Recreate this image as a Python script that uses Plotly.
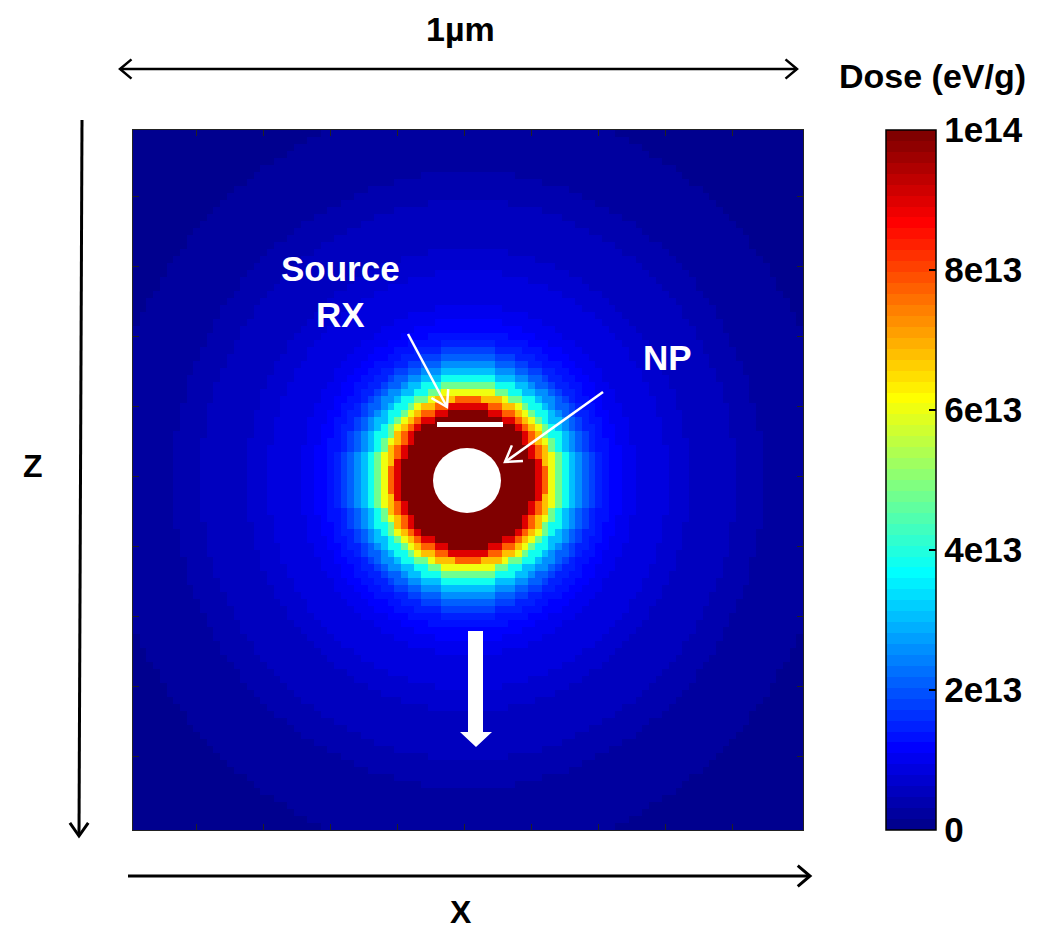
import numpy as np
import plotly.graph_objects as go

# ---------------- data ----------------
grid_step_nm = 10
grid_size_nm = 1000
dose_center_x_nm = 500
dose_center_z_nm = 500
# radial dose profile (dose applies from each radius up to the next one)
radius_bin_start_nm = [0, 100, 108, 116, 124, 132, 140, 150, 160, 170, 180, 190, 200,
                       215, 230, 250, 275, 300, 330, 360, 400, 440, 480, 540, 600]
dose_e13 = [14.0, 9.0, 7.8, 6.8, 6.0, 4.8, 3.8, 3.0, 2.5, 2.1, 1.8, 1.55, 1.3,
            1.12, 1.0, 0.9, 0.8, 0.7, 0.6, 0.48, 0.36, 0.26, 0.16, 0.09, 0.04]
colorbar_tick_values = [0, 2e13, 4e13, 6e13, 8e13, 1e14]
colorbar_tick_labels = ["0", "2e13", "4e13", "6e13", "8e13", "1e14"]
axis_tick_values_nm = [95, 195, 295, 395, 495, 595, 695, 795, 895]

# ---------------- build the dose table ----------------
cell_centers = np.arange(grid_step_nm / 2, grid_size_nm, grid_step_nm)
XX, ZZ = np.meshgrid(cell_centers, cell_centers)
RR = np.hypot(XX - dose_center_x_nm, ZZ - dose_center_z_nm)
bin_idx = np.searchsorted(np.array(radius_bin_start_nm), RR, side="right") - 1
dose = np.array(dose_e13)[bin_idx] * 1e13

# ---------------- MATLAB jet(64) colormap ----------------
m = 64
n = int(np.ceil(m / 4))
u = np.concatenate([np.arange(1, n + 1) / n, np.ones(n - 1), np.arange(n, 0, -1) / n])
g = int(np.ceil(n / 2)) - (1 if m % 4 == 1 else 0) + np.arange(1, len(u) + 1)
r = g + n
b = g - n
g = g[g <= m]
r = r[r <= m]
b = b[b >= 1]
J = np.zeros((m, 3))
J[r - 1, 0] = u[:len(r)]
J[g - 1, 1] = u[:len(g)]
J[b - 1, 2] = u[len(u) - len(b):]
jet_scale = []
for k in range(m):
    c = "rgb(%d,%d,%d)" % tuple(int(round(v * 255)) for v in J[k])
    jet_scale.append([k / m, c])
    jet_scale.append([(k + 1) / m, c])

FONT = "Liberation Sans, Arial, sans-serif"

# page body margin offset (pixels)
OFF = 8
FIG_W, FIG_H = 1044 - OFF, 931 - OFF
L, T, W, H = 133, 130, 670, 700   # plot area in screen pixels

fig = go.Figure()
fig.add_trace(go.Heatmap(
    x=cell_centers, y=cell_centers, z=dose,
    zmin=0, zmax=1e14, colorscale=jet_scale, hoverinfo="skip",
    colorbar=dict(
        x=(886 - L) / W, xanchor="left", xpad=0,
        y=0.5, yanchor="middle", len=1, lenmode="fraction", ypad=0,
        thickness=50, thicknessmode="pixels",
        outlinecolor="black", outlinewidth=1.5,
        tickvals=colorbar_tick_values, ticktext=colorbar_tick_labels,
        ticks="inside", ticklen=7, tickwidth=1.5, tickcolor="black",
        tickfont=dict(family=FONT, size=35, color="black", weight="bold"),
    ),
))


def P(x, y):
    return (x - L) / W, (T + H - y) / H


axis_common = dict(showticklabels=False, ticks="inside", ticklen=6, tickwidth=1,
                   tickcolor="#222", showline=True, linecolor="#222", linewidth=1,
                   mirror="ticks", showgrid=False, zeroline=False,
                   tickvals=axis_tick_values_nm)
fig.update_layout(
    width=FIG_W, height=FIG_H,
    margin=dict(l=L - OFF, r=FIG_W - (L - OFF) - W, t=T - OFF, b=FIG_H - (T - OFF) - H),
    paper_bgcolor="white", plot_bgcolor="white",
    xaxis=dict(range=[0, grid_size_nm], **axis_common),
    yaxis=dict(range=[grid_size_nm, 0], **axis_common),
    showlegend=False,
)

shapes = []


def line_px(p0, p1, color, width):
    x0, y0 = P(*p0)
    x1, y1 = P(*p1)
    shapes.append(dict(type="line", xref="paper", yref="paper", x0=x0, y0=y0, x1=x1, y1=y1,
                       line=dict(color=color, width=width)))


def chevron_px(tip, tail, color, width, arm=16, ang=35):
    tx, ty = tip
    dx, dy = tail[0] - tx, tail[1] - ty
    d = np.hypot(dx, dy)
    ux, uy = dx / d, dy / d
    pts = []
    for s in (1, -1):
        a = np.radians(ang * s)
        vx = ux * np.cos(a) - uy * np.sin(a)
        vy = ux * np.sin(a) + uy * np.cos(a)
        pts.append((tx + arm * vx, ty + arm * vy))
    path = "M %f,%f L %f,%f L %f,%f" % (*P(*pts[0]), *P(tx, ty), *P(*pts[1]))
    shapes.append(dict(type="path", xref="paper", yref="paper", path=path,
                       line=dict(color=color, width=width)))


def arrow_px(tail, tip, color, width, double=False, arm=16, ang=35):
    line_px(tail, tip, color, width)
    chevron_px(tip, tail, color, width, arm, ang)
    if double:
        chevron_px(tail, tip, color, width, arm, ang)


# black scale/axis arrows outside the map
arrow_px((120, 69), (797, 69), "black", 2.5, double=True, arm=15, ang=40)
arrow_px((82, 120), (79, 836), "black", 3, arm=16, ang=35)
arrow_px((128, 876), (810, 876), "black", 3, arm=16, ang=40)

# white annotation arrows inside the map
arrow_px((408, 334), (447, 407), "white", 2.5, arm=18, ang=32)
arrow_px((603, 392), (505, 462), "white", 2.5, arm=18, ang=32)

# white source bar
bx0, by0 = P(437, 427)
bx1, by1 = P(503, 422)
shapes.append(dict(type="rect", xref="paper", yref="paper", x0=bx0, y0=by0, x1=bx1, y1=by1,
                   fillcolor="white", line=dict(width=0)))

# nanoparticle
cx0, cy0 = P(433, 513)
cx1, cy1 = P(501, 448)
shapes.append(dict(type="circle", xref="paper", yref="paper", x0=cx0, y0=cy0, x1=cx1, y1=cy1,
                   fillcolor="white", line=dict(width=0)))

# downward beam arrow
pts = [(468, 631), (483, 631), (483, 732), (492, 732), (476, 747), (460, 732), (468, 732)]
path = "M " + " L ".join("%f,%f" % P(*p) for p in pts) + " Z"
shapes.append(dict(type="path", xref="paper", yref="paper", path=path,
                   fillcolor="white", line=dict(width=0)))

fig.update_layout(shapes=shapes)


def text_px(txt, x, y, color, size=33):
    px, py = P(x, y)
    fig.add_annotation(text=txt, x=px, y=py, xref="paper", yref="paper",
                       xanchor="center", yanchor="middle", showarrow=False,
                       font=dict(family=FONT, size=size, color=color, weight="bold"))


text_px("1µm", 460, 29, "black", size=34)
text_px("Dose (eV/g)", 932, 76, "black", size=34)
text_px("Z", 33, 466, "black", size=32)
text_px("X", 461, 912, "black", size=32)
text_px("Source<br>RX", 340, 291, "white", size=35)
text_px("NP", 667, 357, "white", size=35)

fig.write_html("out.html")
